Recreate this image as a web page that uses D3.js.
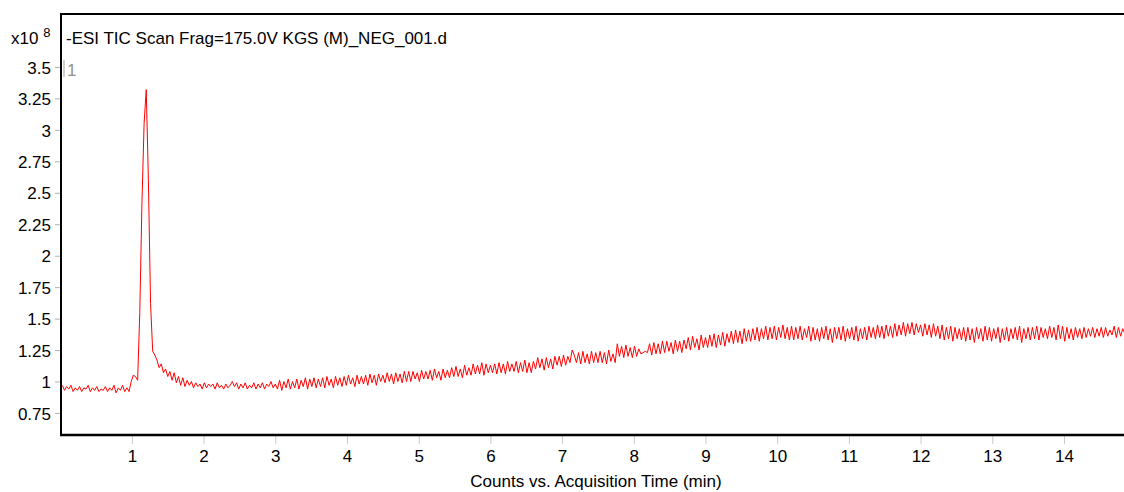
<!DOCTYPE html>
<html>
<head>
<meta charset="utf-8">
<script src="https://cdn.jsdelivr.net/npm/d3@7"></script>
<style>
  html, body { margin: 0; padding: 0; background: #fff; }
  svg { display: block; }
  text { font-family: "Liberation Sans", Arial, sans-serif; fill: #000; }
</style>
</head>
<body>
<svg id="chart" width="1124" height="492"></svg>
<script>
// ---------------- data ----------------
const titleText = "-ESI TIC Scan Frag=175.0V KGS (M)_NEG_001.d";
const xLabelText = "Counts vs. Acquisition Time (min)";
const xTicks = [1, 2, 3, 4, 5, 6, 7, 8, 9, 10, 11, 12, 13, 14];
const yTicks = [0.75, 1, 1.25, 1.5, 1.75, 2, 2.25, 2.5, 2.75, 3, 3.25, 3.5];
const scanStart = 0.03;   // min, first scan
const scanStep = 0.03;    // min between scans
// counts (x10^8), one per scan
const counts = [
  0.97,0.93,0.96,0.94,0.97,0.92,0.95,0.93,0.96,0.92,
  0.95,0.94,0.97,0.92,0.95,0.93,0.96,0.92,0.94,0.93,
  0.96,0.92,0.95,0.93,0.97,0.91,0.95,0.93,0.97,0.92,
  0.95,0.92,1.00,1.05,1.04,1.01,1.55,2.42,3.05,3.32,
  2.60,1.62,1.24,1.21,1.17,1.11,1.14,1.07,1.10,1.04,
  1.08,1.01,1.07,0.99,1.04,0.97,1.03,0.96,1.01,0.97,
  1.00,0.95,0.99,0.96,0.98,0.94,0.99,0.95,0.98,0.96,
  0.98,0.94,0.99,0.95,0.97,0.94,0.98,0.95,0.97,1.00,
  0.96,0.99,0.94,0.98,0.95,0.99,0.94,0.97,0.95,0.99,
  0.94,0.98,0.95,0.99,0.94,0.98,0.96,1.00,0.95,0.98,
  0.94,1.01,0.93,1.00,0.95,1.02,0.94,1.00,0.95,1.02,
  0.94,1.01,0.96,1.03,0.94,1.02,0.96,1.03,0.95,1.02,
  0.96,1.03,0.95,1.04,0.97,1.02,0.95,1.04,0.97,1.03,
  0.96,1.04,0.97,1.05,0.98,1.03,0.96,1.05,0.98,1.04,
  0.98,1.05,0.97,1.06,0.99,1.05,0.97,1.06,1.00,1.05,
  0.99,1.07,1.00,1.06,0.98,1.07,1.00,1.06,0.99,1.08,
  1.00,1.08,1.00,1.08,1.02,1.07,1.00,1.09,1.02,1.08,
  1.02,1.09,1.01,1.10,1.03,1.08,1.01,1.10,1.03,1.09,
  1.03,1.11,1.04,1.12,1.04,1.10,1.03,1.13,1.05,1.11,
  1.05,1.14,1.06,1.13,1.06,1.15,1.05,1.14,1.07,1.13,
  1.07,1.14,1.06,1.15,1.07,1.14,1.06,1.16,1.08,1.14,
  1.08,1.16,1.07,1.15,1.08,1.17,1.07,1.15,1.07,1.16,
  1.10,1.19,1.11,1.18,1.09,1.19,1.11,1.18,1.10,1.20,
  1.13,1.20,1.12,1.21,1.13,1.20,1.15,1.25,1.21,1.15,
  1.23,1.14,1.24,1.15,1.22,1.14,1.24,1.15,1.23,1.15,
  1.24,1.15,1.23,1.14,1.25,1.16,1.22,1.15,1.30,1.20,
  1.28,1.19,1.29,1.20,1.27,1.19,1.28,1.20,1.26,1.22,
  1.23,1.24,1.23,1.30,1.21,1.31,1.22,1.30,1.22,1.32,
  1.23,1.32,1.24,1.31,1.22,1.33,1.24,1.32,1.23,1.33,
  1.26,1.35,1.25,1.36,1.27,1.34,1.25,1.37,1.27,1.35,
  1.27,1.37,1.28,1.38,1.27,1.37,1.29,1.39,1.28,1.38,
  1.31,1.40,1.30,1.41,1.31,1.40,1.30,1.42,1.32,1.41,
  1.32,1.42,1.33,1.43,1.32,1.42,1.34,1.44,1.33,1.43,
  1.34,1.44,1.33,1.43,1.35,1.45,1.34,1.43,1.33,1.44,
  1.33,1.43,1.34,1.44,1.33,1.42,1.35,1.44,1.32,1.43,
  1.33,1.42,1.32,1.43,1.34,1.44,1.33,1.42,1.31,1.43,
  1.34,1.43,1.33,1.44,1.32,1.42,1.34,1.43,1.33,1.44,
  1.32,1.42,1.34,1.43,1.33,1.44,1.35,1.43,1.34,1.45,
  1.35,1.44,1.34,1.45,1.36,1.44,1.35,1.46,1.36,1.45,
  1.37,1.47,1.36,1.46,1.38,1.47,1.37,1.46,1.39,1.45,
  1.36,1.46,1.37,1.45,1.35,1.46,1.36,1.44,1.34,1.45,
  1.33,1.43,1.34,1.44,1.32,1.43,1.34,1.42,1.33,1.43,
  1.32,1.43,1.33,1.42,1.31,1.43,1.34,1.42,1.32,1.44,
  1.33,1.43,1.32,1.42,1.34,1.43,1.31,1.42,1.33,1.43,
  1.32,1.42,1.34,1.43,1.33,1.44,1.31,1.42,1.34,1.43,
  1.33,1.43,1.34,1.44,1.33,1.43,1.35,1.42,1.34,1.44,
  1.35,1.43,1.33,1.45,1.34,1.44,1.32,1.43,1.34,1.42,
  1.33,1.43,1.35,1.42,1.34,1.43,1.35,1.42,1.36,1.43,
  1.35,1.42,1.36,1.43,1.35,1.43,1.36,1.41,1.37,1.44,
  1.35,1.43,1.36,1.42,1.38
];
const times = counts.map((_, i) => +(scanStart + i * scanStep).toFixed(3));

// ---------------- layout ----------------
const svg = d3.select("#chart");
const plotLeft = 61, plotRight = 1124, plotTop = 14, plotBottom = 435;

const x = d3.scaleLinear().domain([0.025, 14.84]).range([62, 1124.2]);
const y = d3.scaleLinear().domain([0.575, 3.929]).range([435, 13]);

svg.append("defs").append("clipPath").attr("id", "clip")
  .append("rect").attr("x", plotLeft + 1).attr("y", plotTop)
  .attr("width", plotRight - plotLeft).attr("height", plotBottom - plotTop);

// trace
const line = d3.line().x((d, i) => x(times[i])).y(d => y(d));
svg.append("path")
  .datum(counts)
  .attr("clip-path", "url(#clip)")
  .attr("fill", "none")
  .attr("stroke", "#ff0000")
  .attr("stroke-width", 1)
  .attr("stroke-linejoin", "round")
  .attr("d", line);

// y axis
const yAxis = d3.axisLeft(y).tickValues(yTicks).tickSize(5).tickPadding(4)
  .tickFormat(d => String(d));
const gy = svg.append("g").attr("transform", `translate(${plotLeft - 1},0)`).call(yAxis);
gy.select(".domain").remove();
gy.selectAll(".tick line").attr("stroke", "#b0b0b0");
gy.selectAll(".tick text").style("font-size", "17px").attr("dy", "0.36em");

// x axis
const xAxis = d3.axisBottom(x).tickValues(xTicks).tickSize(8).tickPadding(6)
  .tickFormat(d => String(d));
const gx = svg.append("g").attr("transform", `translate(0,${plotBottom + 1})`).call(xAxis);
gx.select(".domain").remove();
gx.selectAll(".tick line").attr("stroke", "#c8c8c8");
gx.selectAll(".tick text").style("font-size", "17px");

// frame lines
svg.append("line").attr("x1", plotLeft).attr("x2", plotRight)
  .attr("y1", plotTop).attr("y2", plotTop).attr("stroke", "#000").attr("stroke-width", 2);
svg.append("line").attr("x1", plotLeft).attr("x2", plotLeft)
  .attr("y1", plotTop - 1).attr("y2", plotBottom + 1).attr("stroke", "#000").attr("stroke-width", 2);
svg.append("line").attr("x1", plotLeft - 1).attr("x2", plotRight)
  .attr("y1", plotBottom).attr("y2", plotBottom).attr("stroke", "#000").attr("stroke-width", 2.4);

// title
svg.append("text").attr("x", 66).attr("y", 44).style("font-size", "17px").text(titleText);

// exponent label
const expo = svg.append("text").attr("x", 11).attr("y", 44).style("font-size", "17px");
expo.append("tspan").text("x10 ");
expo.append("tspan").attr("dy", -7).style("font-size", "13px").text("8");

// trace id marker
svg.append("line").attr("x1", 64).attr("x2", 64).attr("y1", 60).attr("y2", 77)
  .attr("stroke", "#a0a0a0").attr("stroke-width", 1);
svg.append("text").attr("x", 67).attr("y", 76).style("font-size", "17px")
  .style("fill", "#909090").text("1");

// x label
svg.append("text").attr("x", 596).attr("y", 487).attr("text-anchor", "middle")
  .style("font-size", "17px").text(xLabelText);
</script>
</body>
</html>
